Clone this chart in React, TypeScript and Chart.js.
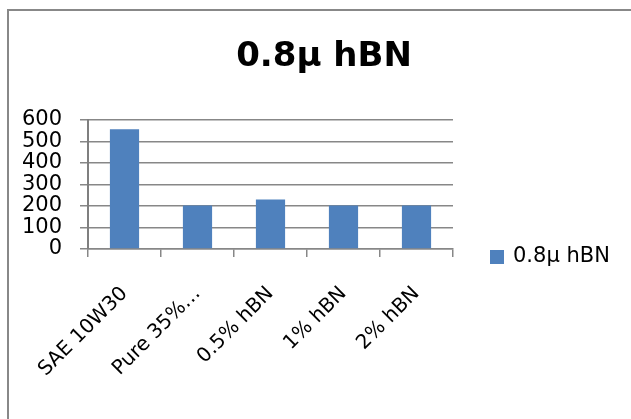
import React, { useEffect, useRef } from "react";
import { Chart, registerables } from "chart.js";

Chart.register(...registerables);

const categories = ["SAE 10W30", "Pure 35%…", "0.5% hBN", "1% hBN", "2% hBN"];
const seriesName = "0.8μ hBN";
const seriesValues = [556, 202, 230, 202, 202];
const titleText = "0.8μ hBN";
const yMin = 0;
const yMax = 600;
const yStep = 100;

const BAR_COLOR = "#4F81BD";
const GRID_COLOR = "#878787";
const FONT = "'DejaVu Sans', sans-serif";

const legendPlugin = {
  id: "customLegend",
  afterDraw(chart: any) {
    const { ctx, chartArea } = chart;
    const ds = chart.data.datasets[0];
    const x = chartArea.right + 37;
    const y = chartArea.bottom + 8;
    ctx.save();
    ctx.fillStyle = ds.backgroundColor;
    ctx.fillRect(x, y - 7, 14, 14);
    ctx.fillStyle = "#000";
    ctx.font = `21px ${FONT}`;
    ctx.textAlign = "left";
    ctx.textBaseline = "middle";
    ctx.fillText(ds.label, x + 23, y);
    ctx.restore();
  },
};

export default function App() {
  const ref = useRef<HTMLCanvasElement | null>(null);

  useEffect(() => {
    if (!ref.current) return;
    const chart = new Chart(ref.current, {
      type: "bar",
      data: {
        labels: categories,
        datasets: [
          {
            label: seriesName,
            data: seriesValues,
            backgroundColor: BAR_COLOR,
            borderWidth: 0,
            barPercentage: 0.4,
            categoryPercentage: 1,
          },
        ],
      },
      options: {
        animation: false,
        responsive: false,
        maintainAspectRatio: false,
        layout: { padding: { left: 17, right: 0, top: 0, bottom: 0 } },
        plugins: {
          legend: { display: false },
          tooltip: { enabled: false },
          title: {
            display: true,
            text: titleText,
            color: "#000",
            font: { family: FONT, size: 34, weight: "bold", lineHeight: 1.2 },
            padding: { top: 37, bottom: 42 },
          },
        },
        scales: {
          x: {
            offset: true,
            grid: {
              display: true,
              drawOnChartArea: false,
              drawTicks: true,
              tickLength: 8,
              color: GRID_COLOR,
              lineWidth: 1.5,
            },
            border: { display: true, color: GRID_COLOR, width: 1.5 },
            ticks: {
              minRotation: 45,
              maxRotation: 45,
              autoSkip: false,
              padding: 25,
              color: "#000",
              font: { family: FONT, size: 20 },
            },
            afterFit: (s: any) => {
              s.height = 170;
            },
          },
          y: {
            min: yMin,
            max: yMax,
            grid: {
              color: GRID_COLOR,
              lineWidth: 1.5,
              tickLength: 8,
            },
            border: { display: true, color: "#7f7f7f", width: 2 },
            ticks: {
              stepSize: yStep,
              count: (yMax - yMin) / yStep + 1,
              autoSkip: false,
              padding: 18,
              color: "#000",
              font: { family: FONT, size: 21, lineHeight: 0.9 },
            },
            afterFit: (s: any) => {
              s.width = 71;
            },
          },
          spacer: {
            type: "linear",
            position: "right",
            display: true,
            grid: { display: false, drawTicks: false },
            border: { display: false },
            ticks: { display: false },
            afterFit: (s: any) => {
              s.width = 178;
            },
          },
        },
      },
      plugins: [legendPlugin],
    } as any);
    return () => chart.destroy();
  }, []);

  return (
    <div style={{ position: "fixed", left: 0, top: 0, width: 631, height: 419, background: "#fff" }}>
      <canvas ref={ref} width={631} height={419} style={{ position: "absolute", left: 0, top: 0 }} />
      <div style={{ position: "absolute", left: 7, top: 9, width: 624, height: 2, background: "#888" }} />
      <div style={{ position: "absolute", left: 7, top: 9, width: 2, height: 410, background: "#888" }} />
    </div>
  );
}
